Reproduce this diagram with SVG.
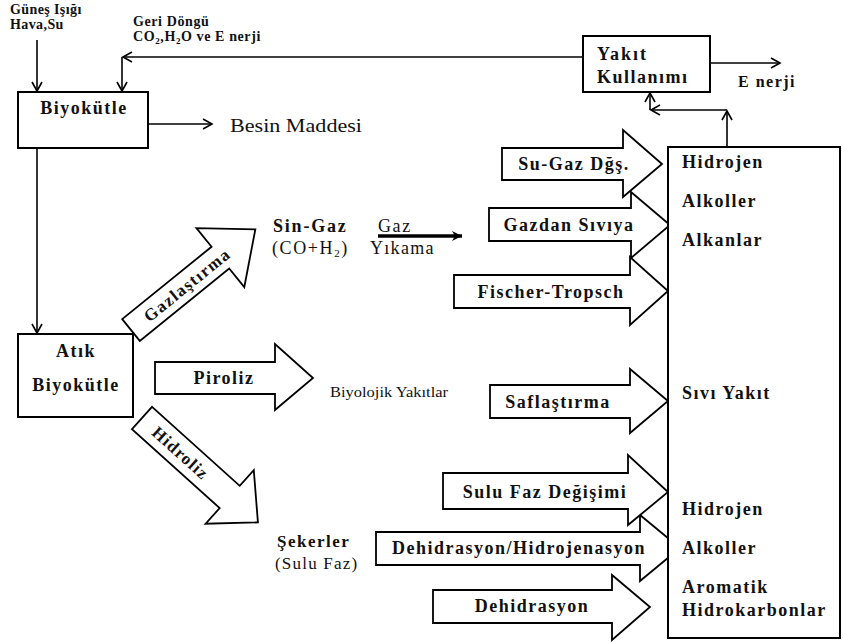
<svg xmlns="http://www.w3.org/2000/svg" width="843" height="643" viewBox="0 0 843 643">
<defs>
<marker id="open" markerWidth="14" markerHeight="14" refX="10" refY="6" orient="auto" markerUnits="userSpaceOnUse"><path d="M1,1 L10,6 L1,11" fill="none" stroke="#000" stroke-width="1.6"/></marker>
<marker id="solid" markerWidth="12" markerHeight="12" refX="10" refY="5" orient="auto" markerUnits="userSpaceOnUse"><path d="M0,0 L10,5 L0,10 L3,5 Z" fill="#000"/></marker>
<style>
text{font-family:'Liberation Serif','Times New Roman',Tinos,'DejaVu Serif',serif;fill:#111;}
.b{font-weight:bold;}
.box{fill:#fff;stroke:#000;stroke-width:2;}
.blk{fill:#fff;stroke:#000;stroke-width:1.8;stroke-linejoin:miter;}
.ln{fill:none;stroke:#000;stroke-width:1.6;}
.a{font-size:18px;font-weight:bold;letter-spacing:1.5px;text-anchor:middle;}
</style>
</defs>
<rect width="843" height="643" fill="#fff"/>

<g id="labels-top">
<text class="b" x="10" y="14" font-size="14" letter-spacing="0.4">Güneş Işığı</text>
<text class="b" x="10" y="29" font-size="14" letter-spacing="0.4">Hava,Su</text>
<text class="b" x="133" y="26" font-size="14" letter-spacing="0.6">Geri Döngü</text>
<text class="b" x="133" y="41" font-size="14" letter-spacing="0.6">CO<tspan font-size="9" dy="3">2</tspan><tspan dy="-3">,H</tspan><tspan font-size="9" dy="3">2</tspan><tspan dy="-3">O ve E nerji</tspan></text>
</g>

<g id="connectors">
<line class="ln" x1="37" y1="40" x2="37" y2="91" marker-end="url(#open)"/>
<polyline class="ln" points="583,57 123,57" marker-end="url(#open)"/>
<line class="ln" x1="122" y1="57" x2="122" y2="91" marker-end="url(#open)"/>
<line class="ln" x1="148" y1="124" x2="212" y2="124" marker-end="url(#open)"/>
<line class="ln" x1="37" y1="148" x2="37" y2="333" marker-end="url(#open)"/>
<line class="ln" x1="710" y1="63" x2="780" y2="63" marker-end="url(#open)"/>
<line class="ln" x1="650" y1="110" x2="650" y2="93" marker-end="url(#open)"/>
<line class="ln" x1="727" y1="110" x2="651" y2="110" marker-end="url(#open)"/>
<line class="ln" x1="727" y1="147" x2="727" y2="111" marker-end="url(#open)"/>
<line x1="378" y1="236" x2="462" y2="236" stroke="#000" stroke-width="3.5" marker-end="url(#solid)"/>
</g>

<g id="biyokutle">
<rect class="box" x="18" y="92" width="130" height="56"/>
<text class="b" x="84" y="114" font-size="18" letter-spacing="1.5" text-anchor="middle">Biyokütle</text>
</g>
<g id="besin">
<text x="230" y="132" font-size="18" textLength="132" lengthAdjust="spacingAndGlyphs">Besin Maddesi</text>
</g>
<g id="yakit">
<rect class="box" x="583" y="36" width="127" height="56"/>
<text class="b" x="597" y="60" font-size="18" letter-spacing="2">Yakıt</text>
<text class="b" x="597" y="83" font-size="18" letter-spacing="1.5">Kullanımı</text>
</g>
<g id="enerji">
<text class="b" x="738" y="87" font-size="16" letter-spacing="1.5">E nerji</text>
</g>
<g id="atik">
<rect class="box" x="18" y="334" width="115" height="83"/>
<text class="b" x="76" y="357" font-size="18" letter-spacing="1.5" text-anchor="middle">Atık</text>
<text class="b" x="76" y="391" font-size="18" letter-spacing="1.5" text-anchor="middle">Biyokütle</text>
</g>

<g id="gazlastirma">
<g transform="translate(131,330) rotate(-39)">
<polygon class="blk" points="0,-14 115,-14 115,-38 160,0 115,38 115,14 0,14"/>
<text class="b" x="72" y="6" font-size="17" letter-spacing="1.5" text-anchor="middle">Gazlaştırma</text>
</g>
</g>
<g id="piroliz">
<polygon class="blk" points="155,362 275,362 275,344 313,378 275,410 275,394 155,394"/>
<text class="a" x="224" y="384" letter-spacing="1.8">Piroliz</text>
</g>
<g id="hidroliz">
<g transform="translate(142,418) rotate(42)">
<polygon class="blk" points="0,-15 118,-15 118,-36 156,0 118,36 118,15 0,15"/>
<text class="b" x="52" y="6" font-size="17" letter-spacing="1.2" text-anchor="middle">Hidroliz</text>
</g>
</g>

<g id="singaz">
<text class="b" x="273" y="232" font-size="18" letter-spacing="1.8">Sin-Gaz</text>
<text x="272" y="254" font-size="18" letter-spacing="1.6">(CO+H<tspan font-size="11" dy="3">2</tspan><tspan dy="-3">)</tspan></text>
<text x="378" y="232" font-size="18" letter-spacing="1.6">Gaz</text>
<text x="370" y="254" font-size="18" letter-spacing="1.3">Yıkama</text>
</g>
<g id="biyolojik">
<text x="330" y="397" font-size="15" textLength="118" lengthAdjust="spacingAndGlyphs">Biyolojik Yakıtlar</text>
</g>
<g id="sekerler">
<text class="b" x="277" y="547" font-size="17" letter-spacing="1.5">Şekerler</text>
<text x="275" y="569" font-size="17" letter-spacing="1.2">(Sulu Faz)</text>
</g>

<g id="fischer">
<polygon class="blk" points="454,275 630,275 630,257 668,291 630,325 630,308 454,308"/>
<text class="a" x="551" y="298">Fischer-Tropsch</text>
</g>
<g id="gazdan">
<polygon class="blk" points="489,208 631,208 631,192 670,225 631,258 631,241 489,241"/>
<text class="a" x="569" y="231">Gazdan Sıvıya</text>
</g>
<g id="sugaz">
<polygon class="blk" points="502,148 623,148 623,130 662,164 623,197 623,180 502,180"/>
<text class="a" x="574" y="170">Su-Gaz Dğş.</text>
</g>
<g id="saflastirma">
<polygon class="blk" points="490,385 630,385 630,369 668,401 630,433 630,418 490,418"/>
<text class="a" x="558" y="408" letter-spacing="1.8">Saflaştırma</text>
</g>
<g id="dehidrasyon">
<polygon class="blk" points="433,590 612,590 612,575 650,607 612,640 612,623 433,623"/>
<text class="a" x="532" y="612" letter-spacing="1.8">Dehidrasyon</text>
</g>
<g id="dehidro">
<polygon class="blk" points="376,532 640,532 640,515 680,548 640,581 640,565 376,565"/>
<text class="a" x="519" y="554" letter-spacing="1.1">Dehidrasyon/Hidrojenasyon</text>
</g>
<g id="sulufaz">
<polygon class="blk" points="443,473 628,473 628,455 668,492 628,525 628,509 443,509"/>
<text class="a" x="545" y="498">Sulu Faz Değişimi</text>
</g>

<g id="urunler">
<rect class="box" x="668" y="147" width="172" height="491"/>
<g class="b" font-size="18" letter-spacing="1.5">
<text x="682" y="168">Hidrojen</text>
<text x="682" y="207">Alkoller</text>
<text x="682" y="246">Alkanlar</text>
<text x="682" y="399">Sıvı Yakıt</text>
<text x="682" y="515">Hidrojen</text>
<text x="682" y="554">Alkoller</text>
<text x="682" y="593">Aromatik</text>
<text x="682" y="616">Hidrokarbonlar</text>
</g>
</g>
</svg>
